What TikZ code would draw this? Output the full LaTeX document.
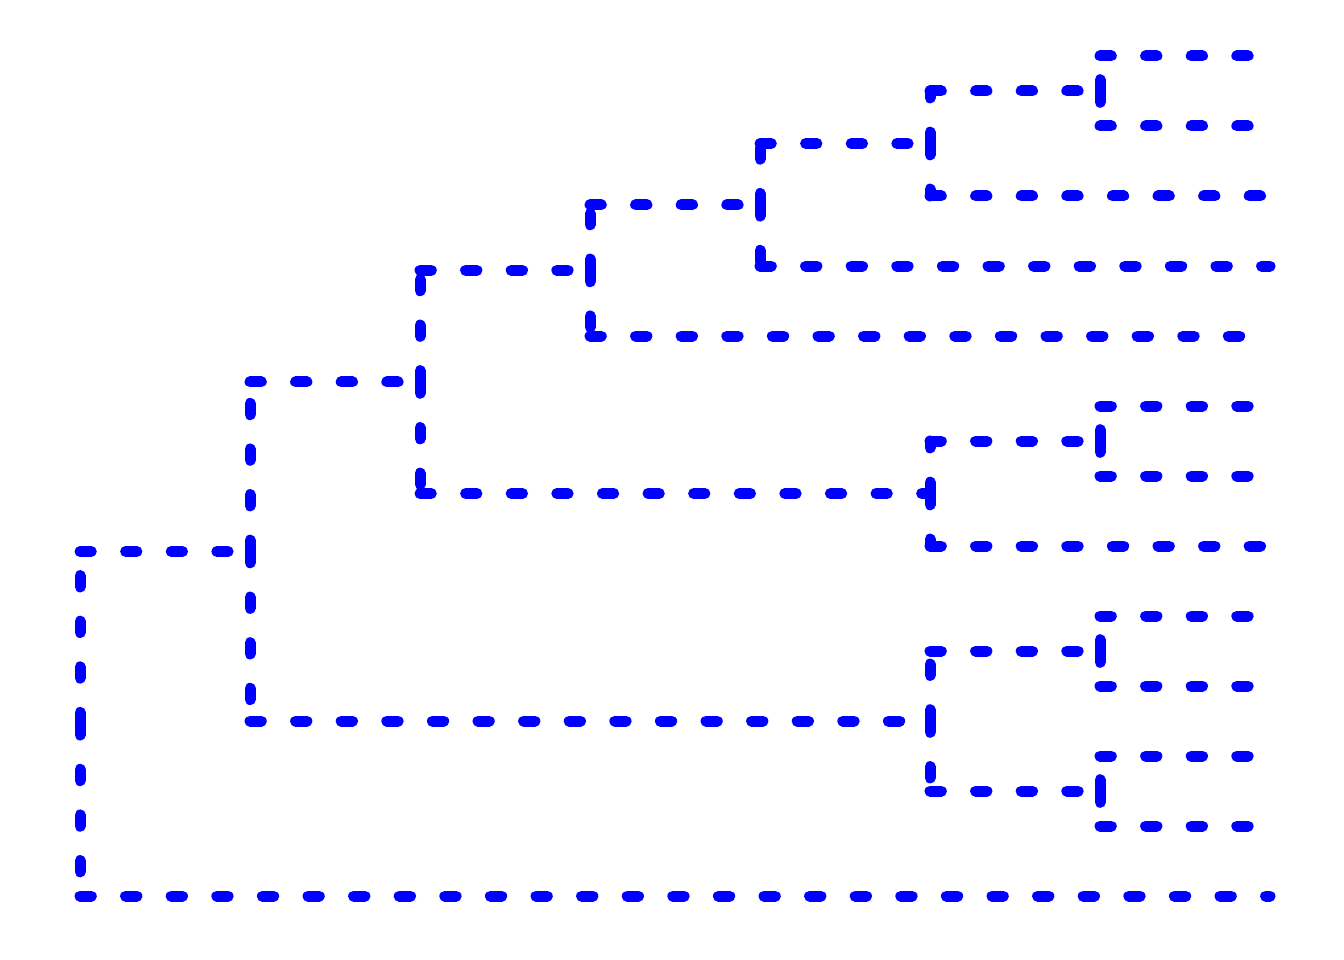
\documentclass[tikz,border=0pt]{standalone}
\usepackage{tikz}
\usetikzlibrary{positioning}

\begin{document}
\begin{tikzpicture}[x=1pt, y=-1pt]

\tikzstyle{branch}=[draw=blue,line width=11pt,line cap=round,dash pattern=on 11.3pt off 34.3pt]

   %frame
    \useasboundingbox (0,0) rectangle (1344,960);

   %leaves
    \foreach \i in {1,...,13}
        \coordinate (l\i) at (1270, {56+70*(\i-1)});

   %merges
    \coordinate (n1) at (1100, 91);
    \coordinate (n2) at (930, 143.5);
    \coordinate (n3) at (760, 204.75);
    \coordinate (n4) at (590, 270.375);
    \coordinate (n5) at (1100, 441);
    \coordinate (n6) at (930, 493.5);
    \coordinate (n7) at (420, 381.9375);
    \coordinate (n8) at (1100, 651);
    \coordinate (n9) at (1100, 791);
    \coordinate (n10) at (930, 721);
    \coordinate (n11) at (250, 551.47);
    \coordinate (n12) at (80, 723.73);

   %draw branches
    \foreach \p/\c in {n1/l1, n1/l2, n2/n1, n2/l3, n3/n2, n3/l4, n4/n3, n4/l5,
                       n5/l6, n5/l7, n6/n5, n6/l8, n7/n4, n7/n6,
                       n8/l9, n8/l10, n9/l11, n9/l12, n10/n8, n10/n9,
                       n11/n7, n11/n10, n12/n11, n12/l13}
    {
        \draw [branch] (\p) -- (\p |- \c);
        \draw [branch] (\p |- \c) -- (\c);
    }

\end{tikzpicture}
\end{document}
